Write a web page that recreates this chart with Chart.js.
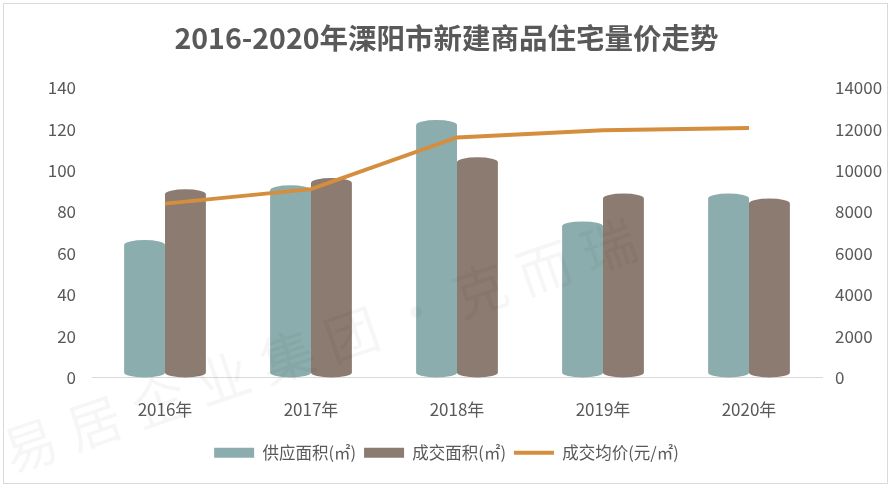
<!DOCTYPE html>
<html>
<head>
<meta charset="utf-8">
<script src="https://cdn.jsdelivr.net/npm/chart.js@4/dist/chart.umd.min.js"></script>
<style>
  body { margin: 0; background: #fff; }
  #wrap { position: relative; width: 893px; height: 489px; }
  #frame { position: absolute; left: 3px; top: 3px; width: 885px; height: 481px; border: 1px solid #d9d9d9; box-sizing: border-box; pointer-events: none; }
</style>
</head>
<body>
<div id="wrap">
  <canvas id="myChart" width="893" height="489"></canvas>
  <div id="frame"></div>
</div>
<script>
const categories = ["2016年", "2017年", "2018年", "2019年", "2020年"];
const supplyArea = [64, 90.5, 122, 73, 86.5];
const dealArea = [88.5, 94, 104, 86.5, 84];
const avgPrice = [8400, 9100, 11600, 11950, 12050];

const textColor = "#595959";
const fontFamily = "'Noto Sans CJK SC', 'Noto Sans', sans-serif";

// 圆柱形柱子
const cylinderPlugin = {
	id: "cylinder",
	beforeDatasetDraw(chart, args) {
		const ds = chart.data.datasets[args.index];
		if (ds.type !== "bar") return;
		const ctx = chart.ctx;
		ctx.save();
		ctx.fillStyle = ds.backgroundColor;
		args.meta.data.forEach((bar) => {
			const { x, y, base, width } = bar.getProps(["x", "y", "base", "width"], true);
			const rx = width / 2;
			const ry = 5;
			ctx.beginPath();
			ctx.ellipse(x, y, rx, ry, 0, Math.PI, 0);
			ctx.lineTo(x + rx, base - ry);
			ctx.ellipse(x, base - ry, rx, ry, 0, 0, Math.PI);
			ctx.closePath();
			ctx.fill();
		});
		ctx.restore();
		return false;
	},
};

// 水印
const watermarkPlugin = {
	id: "watermark",
	afterDraw(chart) {
		const ctx = chart.ctx;
		const chars = "易居企业集团·克而瑞";
		const ang = (19 * Math.PI) / 180;
		ctx.save();
		ctx.fillStyle = "rgba(0, 0, 0, 0.035)";
		ctx.font = "54px " + fontFamily;
		ctx.textAlign = "center";
		ctx.textBaseline = "middle";
		for (let i = 0; i < chars.length; i++) {
			const cx = 30 + i * 68 * Math.cos(ang);
			const cy = 445 - i * 68 * Math.sin(ang);
			ctx.save();
			ctx.translate(cx, cy);
			ctx.rotate(-ang);
			ctx.fillText(chars[i], 0, 0);
			ctx.restore();
		}
		ctx.restore();
	},
};

const ctx = document.getElementById("myChart").getContext("2d");
const myChart = new Chart(ctx, {
	data: {
		labels: categories,
		datasets: [
			{
				type: "line",
				label: "成交均价(元/㎡)",
				data: avgPrice,
				yAxisID: "y1",
				borderColor: "#D48E3E",
				backgroundColor: "#D48E3E",
				borderWidth: 4,
				pointRadius: 0,
				pointStyle: "line",
				tension: 0,
				order: 0,
			},
			{
				type: "bar",
				label: "供应面积(㎡)",
				data: supplyArea,
				yAxisID: "y",
				backgroundColor: "#8CADAD",
				pointStyle: "rect",
				barPercentage: 1,
				categoryPercentage: 0.56,
				order: 1,
			},
			{
				type: "bar",
				label: "成交面积(㎡)",
				data: dealArea,
				yAxisID: "y",
				backgroundColor: "#8B7B70",
				pointStyle: "rect",
				barPercentage: 1,
				categoryPercentage: 0.56,
				order: 1,
			},
		],
	},
	options: {
		responsive: false,
		animation: false,
		layout: { padding: { top: 0, bottom: 18, left: 0, right: 0 } },
		plugins: {
			title: {
				display: true,
				text: "2016-2020年溧阳市新建商品住宅量价走势",
				color: textColor,
				font: { family: fontFamily, size: 28.5, weight: "bold" },
				padding: { top: 21, bottom: 32.5 },
			},
			legend: {
				position: "bottom",
				labels: {
					usePointStyle: true,
					pointStyleWidth: 40,
					boxHeight: 10,
					padding: 8,
					color: textColor,
					font: { family: fontFamily, size: 16.5 },
					sort: (a, b) => [1, 2, 0].indexOf(a.datasetIndex) - [1, 2, 0].indexOf(b.datasetIndex),
				},
			},
			tooltip: { enabled: false },
		},
		scales: {
			x: {
				grid: { display: false },
				border: { display: true, color: "#d9d9d9", width: 1 },
				ticks: { color: textColor, font: { family: fontFamily, size: 17 }, padding: 14 },
				afterFit: (scale) => { scale.height = 59; },
			},
			y: {
				position: "left",
				min: 0,
				max: 140,
				grid: { display: false },
				border: { display: false },
				ticks: { stepSize: 20, color: textColor, font: { family: fontFamily, size: 17 }, padding: 8 },
				afterFit: (scale) => { scale.width = 92; },
			},
			y1: {
				position: "right",
				min: 0,
				max: 14000,
				grid: { display: false },
				border: { display: false },
				ticks: {
					stepSize: 2000,
					color: textColor,
					font: { family: fontFamily, size: 17 },
					padding: 5,
					callback: (v) => String(v),
				},
				afterFit: (scale) => { scale.width = 71; },
			},
		},
	},
	plugins: [cylinderPlugin, watermarkPlugin],
});
</script>
</body>
</html>
